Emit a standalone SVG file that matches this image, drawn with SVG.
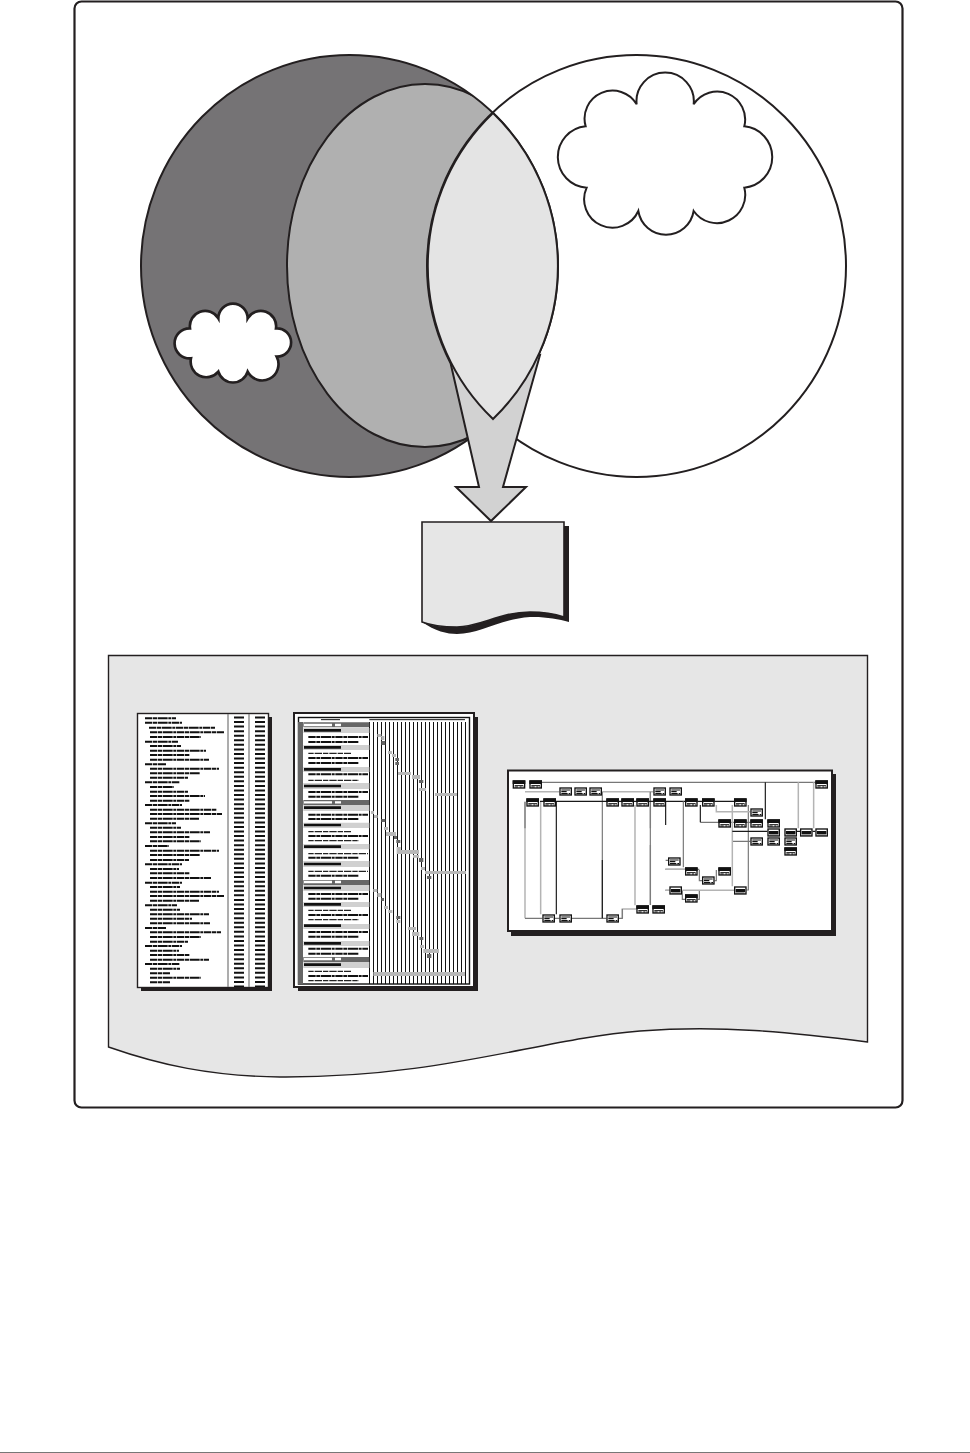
<svg xmlns="http://www.w3.org/2000/svg" width="970" height="1453" viewBox="0 0 970 1453">
<style>
.o{stroke:#231f20;stroke-width:2;stroke-linejoin:miter}
.r{fill:none;stroke:#111;stroke-width:6;stroke-dasharray:22 2 12 2 30 2 9 2}
.thin{fill:none;stroke:#222;stroke-width:3.500;stroke-dasharray:16 3 22 3}
.bar{stroke:none;fill:#b8b8b8}
.dk{stroke:none;fill:#666}
.lt{stroke:none;fill:#d0d0d0}
.cg{fill:none;stroke:#777;stroke-width:3.500}
.cl{fill:none;stroke:#b4b4b4;stroke-width:4.500}
.cb{fill:none;stroke:#1a1a1a;stroke-width:3.500}
</style>
<defs>
<clipPath id="leftc"><ellipse cx="349.5" cy="266" rx="208.5" ry="211"/></clipPath>
<g id="bd"><rect x="2" y="2" width="34" height="21" fill="#fff" stroke="#111" stroke-width="4"/><rect x="0" y="0" width="38" height="11" fill="#111"/><path d="M6 16H32M6 20H16M21 20H27M30 20H33" fill="none" stroke="#111" stroke-width="3"/></g>
<g id="bl"><rect x="2" y="2" width="34" height="21" fill="#fff" stroke="#111" stroke-width="4"/><path d="M6 8H32M6 13H22M6 19H25M28 19H33" fill="none" stroke="#111" stroke-width="3.500"/></g>
<g id="bm"><rect x="2" y="2" width="34" height="21" fill="#fff" stroke="#111" stroke-width="4"/><rect x="5" y="8" width="28" height="9" fill="#111"/><path d="M6 20H32" fill="none" stroke="#111" stroke-width="2.500"/></g>
</defs>
<rect width="970" height="1453" fill="#fff"/>
<rect id="frame" x="74.5" y="1.5" width="828" height="1106" rx="7" fill="#fff" stroke="#231f20" stroke-width="2.2"/>

<g id="venn">
<ellipse id="left-circle" cx="349.5" cy="266" rx="208.5" ry="211" fill="#757375"/>
<g clip-path="url(#leftc)"><ellipse id="middle" cx="425" cy="265.5" rx="138" ry="181.5" fill="#b0b0b0" class="o"/></g>
<ellipse cx="349.5" cy="266" rx="208.5" ry="211" fill="none" class="o"/>
<ellipse id="right-circle" cx="636.5" cy="266" rx="209.5" ry="211" fill="none" class="o"/>
<path id="arrow" d="M451 365L479 487H456L491 521L526 487H503L540 355Z" fill="#d2d2d2" class="o"/>
<path id="lens" d="M493 113A208.5 211 0 0 1 493 419A209.5 211 0 0 1 493 113Z" fill="#e4e4e4" class="o"/>
<path id="cloud-large" transform="translate(545 65) scale(.3333)" fill="#fff" stroke="#231f20" stroke-width="6" d="M275 118A86 86 0 1 1 446 118A84 84 0 0 1 598 184A92.400 92.400 0 0 1 598 368A85 85 0 0 1 446 438A84 84 0 0 1 280 438A85 85 0 0 1 125 368A92.300 92.300 0 0 1 122 184A84 84 0 0 1 275 118Z"/>
<path id="cloud-small" transform="translate(165 295) scale(.3333)" fill="#fff" stroke="#231f20" stroke-width="8" d="M160 70A44 44 0 1 1 248 70A46 46 0 0 1 333 100A42.550 42.550 0 1 1 335 185A47 47 0 0 1 248 230A46 46 0 0 1 160 230A47 47 0 0 1 78 190A45.100 45.100 0 1 1 75 100A46 46 0 0 1 160 70Z"/>
</g>

<g id="document">
<path d="M426 526H569V622C558 619 545 616.500 530 617C500 619 480 634 457 634C447 634 435 631 422 622Z" fill="#231f20"/>
<path d="M422 522H564V617C555 614 545 612 530 612C500 612 480 627 457 627C447 627 435 627 422 622Z" fill="#e6e6e6" stroke="#231f20" stroke-width="1.6"/>
</g>

<path id="panel" d="M108.500 655.500H867.500V1042C790 1032 720 1025 640 1031C540 1039 440 1078 280 1077C210 1076 160 1065 108.500 1047Z" fill="#e6e6e6" stroke="#231f20" stroke-width="1.4"/>

<g id="report">
<rect x="141" y="717" width="131" height="274" fill="#231f20"/>
<rect x="137.500" y="713.500" width="131" height="274" fill="#fff" stroke="#231f20" stroke-width="1.4"/>
<path d="M228 714V987M249 714V987" stroke="#777" stroke-width="1.2" fill="none"/>
<path d="M239 716.500V987" stroke="#111" stroke-width="10" stroke-dasharray="2 2.56" fill="none"/>
<path d="M260 716.500V987" stroke="#111" stroke-width="10" stroke-dasharray="2 2.56" fill="none"/>
<path transform="translate(130 705) scale(.3333)" class="r" d="M45 40H138M45 53H156M57 68H255M60 82H282M60 96H213M45 110H144M60 123H153M60 137H228M60 150H180M60 164H237M45 178H108M60 191H267M60 205H210M60 218H174M45 232H150M60 246H132M60 260H174M60 273H225M60 287H180M45 300H156M60 314H261M60 327H276M60 341H207M45 355H138M60 368H153M60 382H240M60 396H180M60 409H213M45 423H117M60 437H267M60 450H210"/>
<path transform="translate(130 855) scale(.3333)" class="r" d="M60 15H177M45 28H156M60 42H147M60 55H180M60 69H243M45 83H156M60 96H150M60 110H267M60 123H282M60 137H207M45 151H141M60 164H150M60 178H237M60 191H186M60 205H240M45 219H108M60 232H273M60 246H213M60 260H174M45 273H156M60 287H147M60 300H180M60 314H237M45 327H150M60 341H150M60 355H120M60 368H213M60 382H120"/>
</g>

<g id="gantt">
<rect x="298" y="717" width="180" height="274" fill="#231f20"/>
<rect x="294" y="713" width="180" height="274" fill="#fff" stroke="#231f20" stroke-width="2"/>
<rect x="298.500" y="717.500" width="171" height="266.500" fill="#fff" stroke="#111" stroke-width="1.4"/>
<line x1="369" y1="853" x2="470" y2="853" stroke="#111" stroke-width="262" stroke-dasharray="1 3"/>
<rect x="298" y="722" width="5" height="262" fill="#666"/>
<g transform="translate(290 705) scale(.3333)">
<path class="dk" d="M40 52H238V67H40ZM40 285H238V300H40Z"/>
<path class="lt" d="M40 69H238V84H40ZM40 120H238V135H40ZM40 186H238V201H40ZM40 234H238V252H40ZM40 300H238V318H40ZM40 353H238V369H40ZM40 417H238V433H40Z"/>
<path d="M42 60H126M135 60H153M42 292H126M135 292H153" fill="none" stroke="#fff" stroke-width="7"/>
<path d="M93 44H150M238 44H525" fill="none" stroke="#111" stroke-width="3"/>
<path d="M42 76H153M42 127H153M42 193H153M42 243H153M42 308H153M42 360H153M42 425H153" fill="none" stroke="#111" stroke-width="8"/>
<path class="r" d="M55 96H234M55 111H207M55 159H234M55 174H207M55 208H234M55 261H234M55 275H207M55 329H234M55 342H207M55 393H234"/>
<path class="thin" d="M55 145H183M55 226H207M55 380H183M55 407H207M55 446H234"/>
<path class="bar" d="M262 87h12v9h-12zM274 93h9v12h-9zM294 138h12v9h-12zM306 147h12v9h-12zM324 201h39v9h-39zM366 210h24v12h-24zM387 249h21v9h-21zM435 264h66v9h-66zM243 318h9v9h-9zM252 330h11v9h-11zM282 366h12v9h-12zM288 381h30v12h-30zM320 426h12v9h-12zM320 435h67v12h-67z"/>
<path class="dk" d="M274 108h12v12h-12zM316 159h11v9h-11zM316 171h11v9h-11zM387 225h13v9h-13zM274 342h12v9h-12zM312 393h9v9h-9zM319 405h12v9h-12z"/>
</g>
<g transform="translate(290 855) scale(.3333)">
<path class="dk" d="M40 75H238V90H40ZM40 306H238V321H40Z"/>
<path class="lt" d="M40 18H238V36H40ZM40 90H238V108H40ZM40 141H238V156H40ZM40 207H238V222H40ZM40 258H238V273H40ZM40 321H238V339H40Z"/>
<path d="M42 81H126M135 81H153M42 312H126M135 312H153" fill="none" stroke="#fff" stroke-width="7"/>
<path d="M42 27H153M42 99H153M42 148H153M42 212H153M42 265H153M42 329H153" fill="none" stroke="#111" stroke-width="8"/>
<path class="r" d="M55 8H207M55 62H207M55 117H234M55 131H207M55 180H234M55 231H234M55 245H207M55 281H234M55 296H207M55 363H234"/>
<path class="thin" d="M55 49H234M55 166H183M55 194H207M55 349H183M55 377H207"/>
<path class="bar" d="M369 0h18v8h-18zM393 36h12v9h-12zM405 48h123v9h-123zM250 102h12v9h-12zM262 114h12v12h-12zM282 153h12v9h-12zM295 165h12v9h-12zM319 195h12v9h-12zM354 216h24v9h-24zM366 231h22v12h-22zM390 270h12v9h-12zM400 282h47v12h-47zM250 351h275v12h-275z"/>
<path class="dk" d="M387 9h13v12h-13zM411 63h13v9h-13zM274 129h8v9h-8zM319 183h12v9h-12zM388 246h12v9h-12zM411 297h13v12h-13z"/>
</g>
</g>

<g id="network">
<rect x="511" y="774" width="325" height="162" fill="#231f20"/>
<rect x="508" y="770.500" width="324" height="160.500" fill="#fff" stroke="#231f20" stroke-width="2"/>
<g id="net-connectors" transform="translate(500 765) scale(.3333)">
<path class="cl" d="M75 80H178M307 80H460M75 110V460M122 110V448M405 120V421M451 80V190M367 460V432H409M497 313H555M451 240V420"/>
<path class="cg" d="M126 52H946M75 190V110M75 460H127M165 460H178M216 460H319M307 80V460M356 460H367V432M451 80V420M497 286H505M497 376H508"/>
<path class="cb" d="M120 109H555M169 109V448M307 285V460M497 110V180M593 109H606M644 109H702"/>
</g>
<g id="net-connectors-2" transform="translate(665 765) scale(.3333)">
<path class="cg" d="M55 109V307M106 172H160M198 172H207M245 172H256M250 120V375H245M202 229H256M103 315V347H111M154 315V347H149M98 313H103M52 376V403H60M103 376V403H98"/>
<path class="cl" d="M0 313H60M154 120V140H256M202 120V364M400 52V190M446 52V190M0 376H13M52 376H207"/>
<path class="cb" d="M106 120V172M301 52V163M202 199H307M396 199H405M443 199H451"/>
<use href="#bl" x="13" y="67"/><use href="#bl" x="9" y="277"/><use href="#bd" x="60" y="100"/><use href="#bd" x="111" y="100"/><use href="#bd" x="207" y="100"/><use href="#bl" x="256" y="130"/><use href="#bd" x="160" y="163"/><use href="#bd" x="207" y="163"/><use href="#bd" x="256" y="163"/><use href="#bd" x="307" y="163"/><use href="#bm" x="307" y="190"/><use href="#bm" x="358" y="190"/><use href="#bm" x="405" y="190"/><use href="#bm" x="451" y="190"/><use href="#bl" x="256" y="217"/><use href="#bl" x="307" y="217"/><use href="#bl" x="358" y="217"/><use href="#bd" x="358" y="247"/><use href="#bd" x="451" y="46"/><use href="#bd" x="60" y="307"/><use href="#bd" x="160" y="307"/><use href="#bl" x="111" y="334"/><use href="#bm" x="13" y="364"/><use href="#bm" x="207" y="364"/><use href="#bd" x="60" y="388"/>
</g>
<g id="net-nodes" transform="translate(500 765) scale(.3333)">
<use href="#bd" x="38" y="46"/><use href="#bd" x="88" y="46"/><use href="#bd" x="79" y="100"/><use href="#bd" x="130" y="100"/><use href="#bd" x="319" y="100"/><use href="#bd" x="364" y="100"/><use href="#bd" x="409" y="100"/><use href="#bd" x="460" y="100"/><use href="#bd" x="409" y="421"/><use href="#bd" x="457" y="421"/>
<use href="#bl" x="178" y="67"/><use href="#bl" x="223" y="67"/><use href="#bl" x="268" y="67"/><use href="#bl" x="460" y="67"/><use href="#bl" x="127" y="448"/><use href="#bl" x="178" y="448"/><use href="#bl" x="319" y="448"/>
</g>
</g>
<line id="page-rule" x1="0" y1="1452.500" x2="970" y2="1452.500" stroke="#777" stroke-width="1"/>
</svg>
